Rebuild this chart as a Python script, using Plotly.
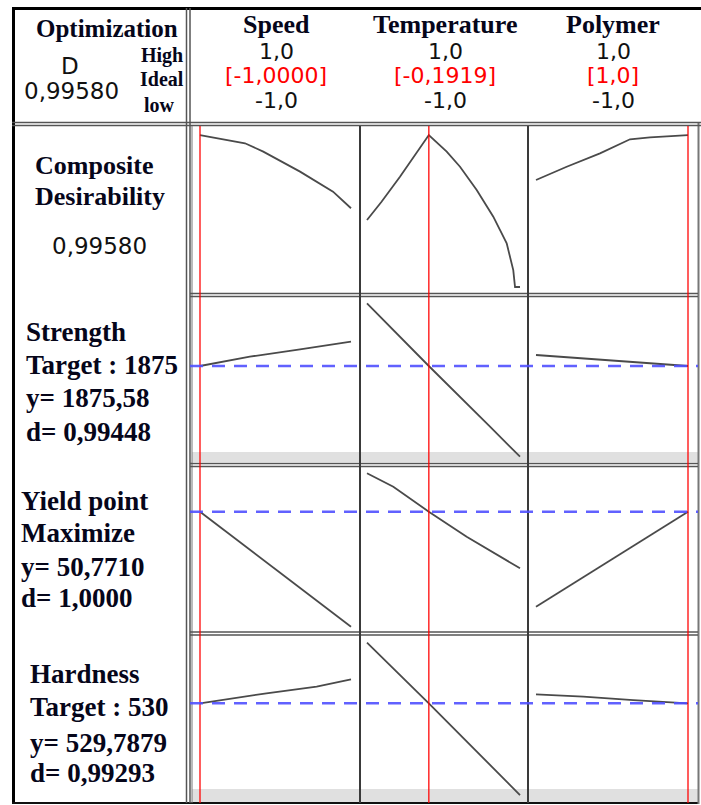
import plotly.graph_objects as go

# ---------------- data ----------------
factors = ["Speed", "Temperature", "Polymer"]
factor_high = ["1,0", "1,0", "1,0"]
factor_low = ["-1,0", "-1,0", "-1,0"]
optimal = [-1.0, -0.1919, 1.0]
optimal_labels = ["[-1,0000]", "[-0,1919]", "[1,0]"]

composite_D = 0.99580
composite_label = "0,99580"

responses = ["Strength", "Yield point", "Hardness"]
goals = ["Target : 1875", "Maximize", "Target : 530"]
pred_y = [1875.58, 50.7710, 529.7879]
pred_labels = ["y= 1875,58", "y= 50,7710", "y= 529,7879"]
desir_labels = ["d= 0,99448", "d= 1,0000", "d= 0,99293"]

# composite desirability traces
comp_speed_x = [-1, -0.404, -0.162, 0.325, 0.762, 1]
comp_speed_D = [0.9958, 0.942, 0.887, 0.756, 0.625, 0.516]
comp_temp_x = [-1, -0.81, -0.569, -0.1919, 0.042, 0.216, 0.434, 0.651, 0.826, 0.912, 0.935, 1.0]
comp_temp_D = [0.439, 0.559, 0.723, 0.9958, 0.887, 0.788, 0.636, 0.461, 0.286, 0.111, 0.0, 0.0]
comp_poly_x = [-1, -0.596, -0.158, 0.237, 0.5, 1]
comp_poly_D = [0.701, 0.788, 0.876, 0.968, 0.981, 0.9958]

# Strength
str_speed_x = [-1, -0.34, 0.325, 1]
str_speed_y = [1875.58, 1894.2, 1909.0, 1924.2]
str_temp_x = [-1, -0.1919, 0.608, 1]
str_temp_y = [2001.0, 1875.58, 1754.2, 1694.2]
str_poly_x = [-1, -0.378, 0.28, 1]
str_poly_y = [1897.6, 1891.0, 1884.2, 1875.58]

# Yield point
yld_speed_x = [-1, 0, 1]
yld_speed_y = [50.771, 47.9, 45.02]
yld_temp_x = [-1, -0.656, -0.1919, 0.303, 1]
yld_temp_y = [52.69, 52.02, 50.771, 49.52, 47.94]
yld_poly_x = [-1, 0, 1]
yld_poly_y = [46.02, 48.41, 50.771]

# Hardness
hrd_speed_x = [-1, -0.12, 0.545, 1]
hrd_speed_y = [529.79, 534.8, 538.1, 541.8]
hrd_temp_x = [-1, -0.1919, 1]
hrd_temp_y = [560.1, 529.79, 483.9]
hrd_poly_x = [-1, -0.378, 0.28, 1]
hrd_poly_y = [534.3, 533.1, 531.4, 529.79]

curves = [
    [(comp_speed_x, comp_speed_D), (comp_temp_x, comp_temp_D), (comp_poly_x, comp_poly_D)],
    [(str_speed_x, str_speed_y), (str_temp_x, str_temp_y), (str_poly_x, str_poly_y)],
    [(yld_speed_x, yld_speed_y), (yld_temp_x, yld_temp_y), (yld_poly_x, yld_poly_y)],
    [(hrd_speed_x, hrd_speed_y), (hrd_temp_x, hrd_temp_y), (hrd_poly_x, hrd_poly_y)],
]

# ---------------- layout geometry (pixels) ----------------
W, H = 701, 805


def fx(p):
    return p / W


def fy(p):
    return 1 - p / H


col_dom = [(192, 359), (361, 527), (529, 697)]
col_anchor = [(200, 351), (367, 520), (536, 688)]   # pixel of -1 and +1
row_dom = [(127, 292), (297, 462), (467, 631), (635, 802)]
row_anchor = [(0.0, 287, 1 / 152.6), (1875.58, 366, 2.0), (50.771, 511.7, 0.05), (529.7879, 703.3, 0.5)]

CURVE = "#4a4a4a"
RED = "rgba(255,0,0,0.85)"
BLUE = "rgba(80,80,255,0.9)"
GRID = "#3a3a3a"
SERIF = "Liberation Serif"
SANS = "DejaVu Sans"
INK = "#06061a"

fig = go.Figure()
layout = {}
idx = 0
for r in range(4):
    for c in range(3):
        idx += 1
        sfx = "" if idx == 1 else str(idx)
        d0, d1 = col_dom[c]
        a, b = col_anchor[c]
        upx = (b - a) / 2.0
        xr = [-1 + (d0 - a) / upx, -1 + (d1 - a) / upx]
        t0, t1 = row_dom[r]
        v0, p0, k = row_anchor[r]
        yr = [v0 + (p0 - t1) * k, v0 + (p0 - t0) * k]
        layout["xaxis" + sfx] = dict(domain=[fx(d0), fx(d1)], range=xr, visible=False,
                                     anchor="y" + sfx, fixedrange=True)
        layout["yaxis" + sfx] = dict(domain=[fy(t1), fy(t0)], range=yr, visible=False,
                                     anchor="x" + sfx, fixedrange=True)
        xs, ys = curves[r][c]
        fig.add_trace(go.Scatter(x=xs, y=ys, mode="lines", xaxis="x" + sfx, yaxis="y" + sfx,
                                 line=dict(color=CURVE, width=1.8), hoverinfo="skip"))

shapes = []


def line(x0, y0, x1, y1, color, width, dash=None, layer="above"):
    d = dict(type="line", xref="paper", yref="paper", x0=fx(x0), y0=fy(y0), x1=fx(x1), y1=fy(y1),
             line=dict(color=color, width=width), layer=layer)
    if dash:
        d["line"]["dash"] = dash
    shapes.append(d)


# gray bands at bottom of Strength and Hardness rows
for (y0, y1) in [(452, 462), (789, 802)]:
    shapes.append(dict(type="rect", xref="paper", yref="paper", x0=fx(192), x1=fx(698),
                       y0=fy(y1), y1=fy(y0), fillcolor="#e0e0e0", line=dict(width=0), layer="below"))

# frame
line(13.5, 7, 13.5, 804, "#000", 3)
line(12, 8.5, 701, 8.5, "#000", 3)
line(12, 803, 699, 803, "#111", 2)
line(698.5, 122, 698.5, 804, "#777", 2)
# header bottom double line
line(12, 122.5, 701, 122.5, "#555", 1.6)
line(12, 125.5, 701, 125.5, "#555", 1.6)
# vertical dividers between label column and panels
line(186.5, 8, 186.5, 803, "#555", 1.5)
line(190, 8, 190, 803, "#555", 1.5)
line(192, 126, 192, 803, "#777", 1)
# row separators (panels only)
for ys in [(293.5, 296.5), (463.5, 466.5), (632, 635)]:
    for yy in ys:
        line(190, yy, 698, yy, "#555", 1.6)
# column dividers
line(360, 126, 360, 803, GRID, 2)
line(528, 126, 528, 803, GRID, 2)

# red vertical lines at optimal settings
for c in range(3):
    sfx = "" if c == 0 else str(c + 1)
    shapes.append(dict(type="line", xref="x" + sfx, yref="paper", x0=optimal[c], x1=optimal[c],
                       y0=fy(803), y1=fy(126), line=dict(color=RED, width=1.5)))

# blue dashed lines at predicted responses
for r in range(3):
    sfx = str(3 * (r + 1) + 1)
    shapes.append(dict(type="line", xref="paper", yref="y" + sfx, x0=fx(190), x1=fx(698),
                       y0=pred_y[r], y1=pred_y[r], line=dict(color=BLUE, width=2.6, dash="13px,9px")))

layout["shapes"] = shapes

ann = []


def text(s, x, y, family, size, color="#000", xanchor="center", bold=False):
    ann.append(dict(text=s, x=fx(x), y=fy(y), xref="paper", yref="paper", xanchor=xanchor,
                    yanchor="middle", showarrow=False,
                    font=dict(family=family, size=size, color=color,
                              weight="bold" if bold else "normal")))


# header block
text("Optimization", 106.5, 28, SERIF, 25, INK, bold=True)
text("D", 70, 66, SANS, 23, "#111")
text(composite_label, 71.5, 91, SANS, 23, "#111")
text("High", 185, 55, SERIF, 20, INK, xanchor="right", bold=True)
text("Ideal", 186, 79, SERIF, 20, INK, xanchor="right", bold=True)
text("low", 177, 105, SERIF, 20, INK, xanchor="right", bold=True)

fac_cx = [276, 445, 613]
for c in range(3):
    text(factors[c], fac_cx[c], 25, SERIF, 26, INK, bold=True)
    text(factor_high[c], fac_cx[c], 52, SANS, 22, "#111")
    text(optimal_labels[c], fac_cx[c], 76, SANS, 22, "#ff0000")
    text(factor_low[c], fac_cx[c], 100, SANS, 22, "#111")

# composite label
text("Composite", 33, 165, SERIF, 26, INK, xanchor="left", bold=True)
text("Desirability", 33, 196, SERIF, 26, INK, xanchor="left", bold=True)
text(composite_label, 99.5, 246, SANS, 23, "#111")

# response labels
resp_left = [24, 19, 28]
resp_y = [[331.7, 365, 398, 431.7], [500.7, 532.7, 567.3, 598.3], [674, 706.7, 742.7, 773.3]]
for r in range(3):
    lines = [responses[r], goals[r], pred_labels[r], desir_labels[r]]
    for i, s in enumerate(lines):
        text(s, resp_left[r], resp_y[r][i], SERIF, 27, INK, xanchor="left", bold=True)

layout["annotations"] = ann
fig.update_layout(**layout)
fig.update_layout(width=W, height=H, margin=dict(l=0, r=0, t=0, b=0),
                  paper_bgcolor="white", plot_bgcolor="rgba(0,0,0,0)", showlegend=False)

fig.write_html("out.html", config={"displayModeBar": False},
               post_script="document.body.style.margin='0';")
